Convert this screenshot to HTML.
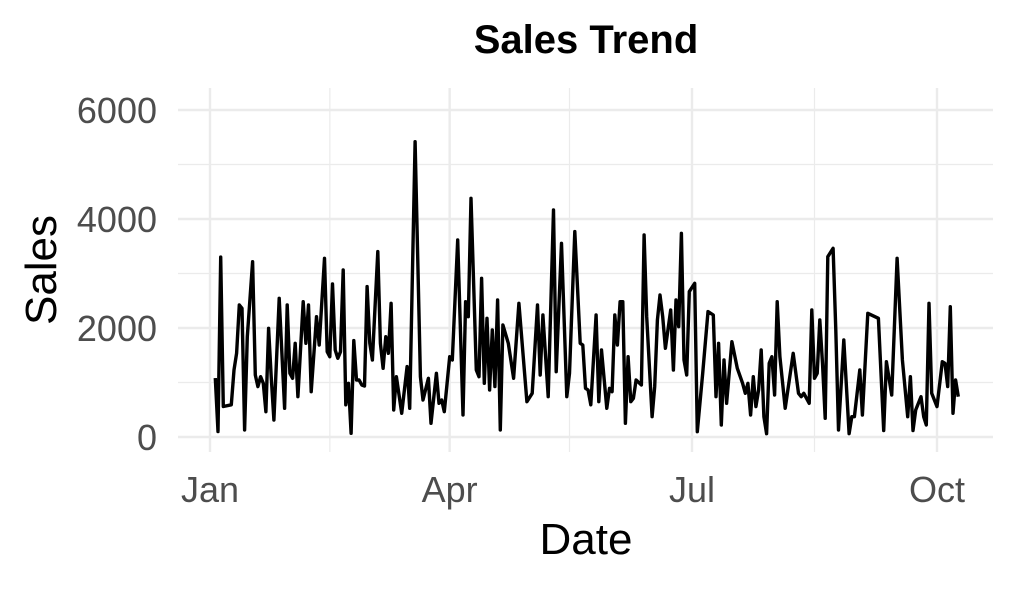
<!DOCTYPE html>
<html><head><meta charset="utf-8"><style>
body{margin:0;background:#fff}
svg text{font-family:"Liberation Sans",Arial,sans-serif}
</style></head><body>
<svg id="chart" width="1017" height="587" viewBox="0 0 1017 587">
<rect width="1017" height="587" fill="#fff"/>
<g id="grid"></g>
<g id="series"></g>
<g id="axes"></g>
<text x="586" y="53" text-anchor="middle" font-size="40" font-weight="bold" fill="#000">Sales Trend</text>
<text x="586" y="554" text-anchor="middle" font-size="44" fill="#000">Date</text>
<text transform="translate(56,270) rotate(-90)" text-anchor="middle" font-size="44" fill="#000">Sales</text>
</svg>
<script>
const dayOffsets=[2,3,4,5,8,9,10,11,12,13,14,16,17,18,19,20,21,22,23,24,26,28,29,30,31,32,33,35,36,37,38,40,41,43,44,45,46,47,48,49,50,51,52,53,54,55,56,57,58,59,60,61,63,64,65,66,67,68,69,
70,72,74,75,77,79,80,82,83,85,86,87,88,90,91,93,95,96,97,98,100,101,102,103,104,105,106,107,108,109,110,112,114,116,119,121,123,124,125,127,129,130,132,134,135,137,139,
140,141,142,143,145,146,147,149,150,151,152,153,154,155,156,157,158,159,160,162,163,164,166,167,168,169,170,171,173,174,175,176,177,178,179,180,182,183,185,187,189,190,191,192,193,194,196,198,200,201,202,203,204,205,206,207,208,209,
210,211,212,213,214,216,219,221,222,223,225,226,227,228,229,230,231,232,234,235,236,238,240,241,242,244,245,247,251,253,254,256,258,260,262,263,264,265,267,268,269,270,271,273,275,276,277,278,279,280,281];
const salesValues=[1080,100,3300,560,590,1230,1535,2422,2361,128,1841,3217,1138,924,1107,985,465,1994,1107,312,2545,526,2422,1168,1077,1719,740,2483,1719,2422,832,2208,1688,3279,1566,1474,2808,1596,1444,1566,3064,590,985,67,1768,1046,1046,954,936,2759,1719,1413,3401,1719,1260,1841,1535,2453,495,
1107,434,1291,526,5419,1107,679,1077,251,1168,618,679,465,1474,1413,3615,404,2483,2208,4380,1229,1107,2912,985,2178,862,1963,924,2514,128,2055,1719,1077,2453,648,801,2422,1138,2239,740,4165,1199,3554,740,1168,3768,1719,
1688,893,862,590,2239,648,1596,526,893,832,2239,1688,2483,2483,251,1474,648,710,1046,954,3707,2208,373,924,2147,2606,2208,1627,2330,1229,2514,2024,3737,1413,1138,2667,2820,97,1168,2300,2239,740,1719,220,1413,618,1749,1260,985,801,985,404,1107,557,862,1596,373,60,
1352,1474,771,2483,1474,526,1535,801,740,801,618,2330,1077,1168,2147,1352,343,3309,3462,1963,128,1780,60,373,373,1229,404,2269,2178,120,1382,771,3279,1413,373,1107,120,495,740,373,220,2453,801,557,1382,1352,924,2391,434,1046,740];
const xTickLabels=["Jan","Apr","Jul","Oct"];
const xTickDays=[0,90,181,273];
const xMinorDays=[45,135,227];
const yTickValues=[0,2000,4000,6000];
const yMinorValues=[1000,3000,5000];

const NS="http://www.w3.org/2000/svg";
const PX0=178,PX1=993,PY0=88,PY1=452;
function xScale(d){return 210+d*(727/273);}
function yScale(v){return 437-v*0.0545;}
function mk(tag,attrs,parent){const e=document.createElementNS(NS,tag);for(const k in attrs)e.setAttribute(k,attrs[k]);parent.appendChild(e);return e;}
const grid=document.getElementById('grid'),axes=document.getElementById('axes'),series=document.getElementById('series');
yMinorValues.forEach(v=>{const l=mk('line',{x1:PX0,x2:PX1,y1:yScale(v),y2:yScale(v),stroke:'#ebebeb','stroke-width':1.2},grid);

});
xMinorDays.forEach(d=>{const l=mk('line',{x1:xScale(d),x2:xScale(d),y1:PY0,y2:PY1,stroke:'#ebebeb','stroke-width':1.2},grid);

});
yTickValues.forEach(v=>{const l=mk('line',{x1:PX0,x2:PX1,y1:yScale(v),y2:yScale(v),stroke:'#ebebeb','stroke-width':2.4},grid);


const t=mk('text',{x:157,y:yScale(v)+13,'text-anchor':'end','font-size':36,fill:'#4d4d4d'},axes);t.textContent=v;

});
xTickDays.forEach((d,i)=>{const l=mk('line',{x1:xScale(d),x2:xScale(d),y1:PY0,y2:PY1,stroke:'#ebebeb','stroke-width':2.4},grid);


const t=mk('text',{x:xScale(d),y:502,'text-anchor':'middle','font-size':36,fill:'#4d4d4d'},axes);t.textContent=xTickLabels[i];

});
const pts=dayOffsets.map((d,i)=>xScale(d).toFixed(1)+','+yScale(salesValues[i]).toFixed(1)).join(' ');
const pl=mk('polyline',{points:pts,fill:'none',stroke:'#000','stroke-width':3.4,'stroke-linejoin':'round'},series);


</script>
</body></html>
